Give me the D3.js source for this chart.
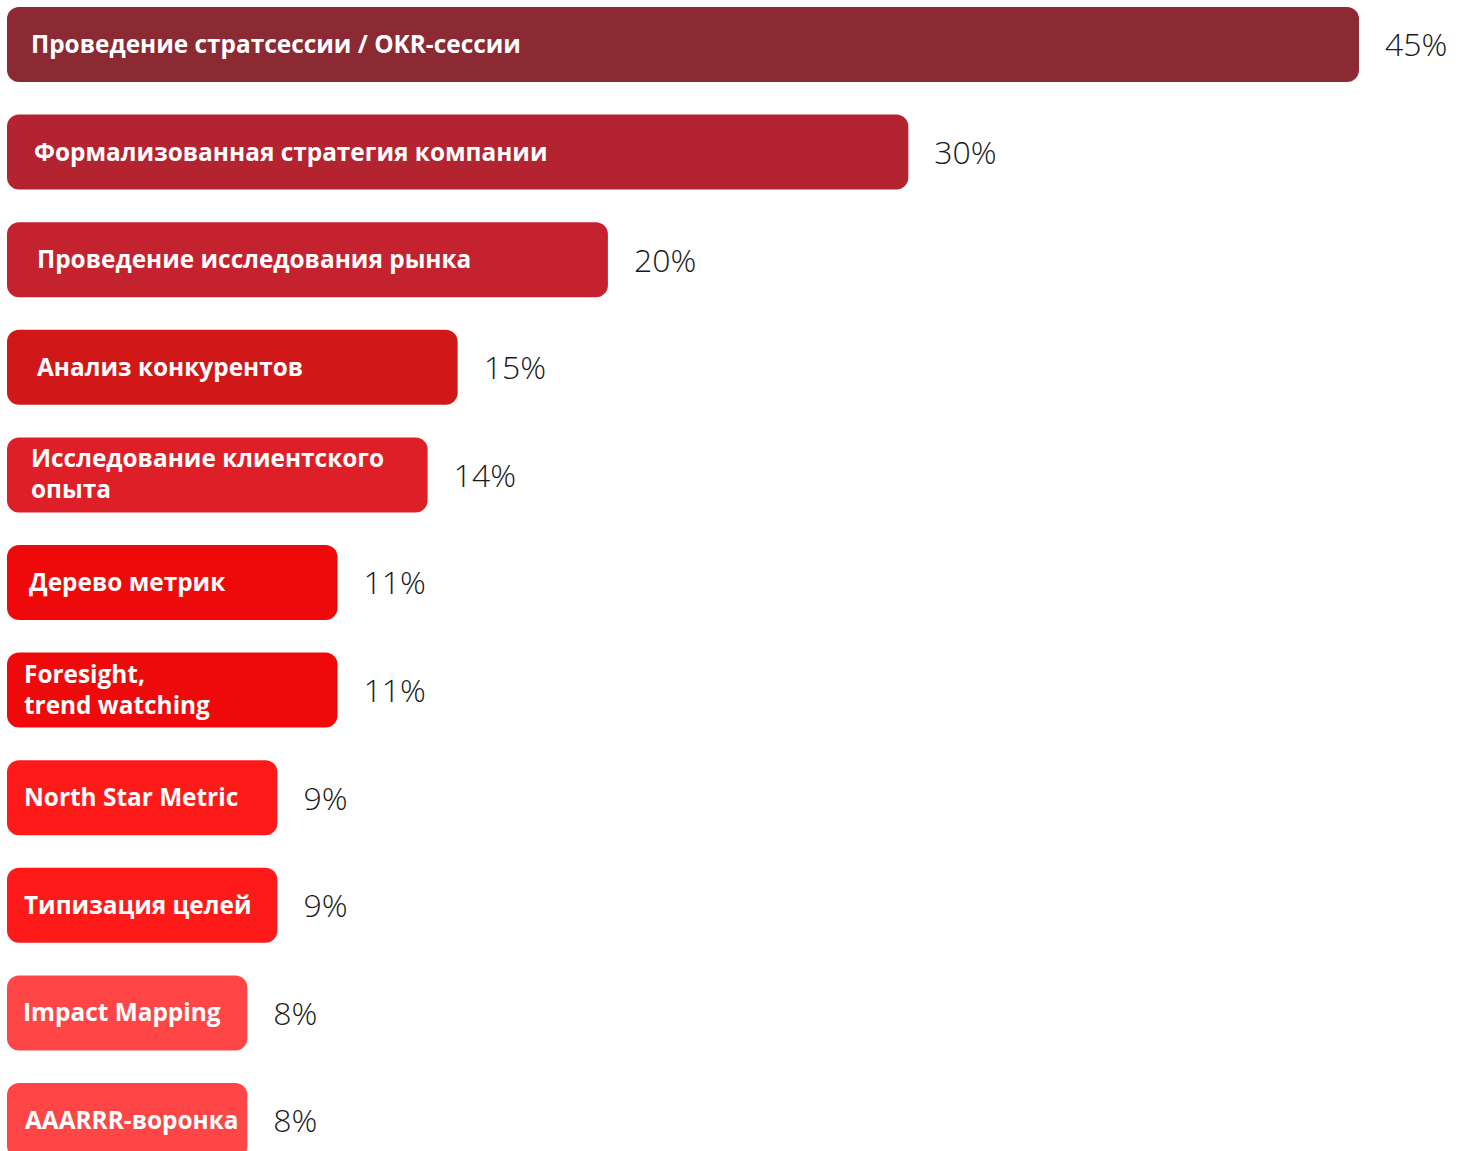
<!DOCTYPE html>
<html><head><meta charset="utf-8">
<script src="https://cdn.jsdelivr.net/npm/d3@7"></script>
<style>html,body{margin:0;padding:0;background:#fff;overflow:hidden}</style>
</head><body>
<svg id="chart" width="1458" height="1151"></svg>
<script>
const categories = [
  ["Проведение стратсессии / OKR-сессии"],
  ["Формализованная стратегия компании"],
  ["Проведение исследования рынка"],
  ["Анализ конкурентов"],
  ["Исследование клиентского", "опыта"],
  ["Дерево метрик"],
  ["Foresight,", "trend watching"],
  ["North Star Metric"],
  ["Типизация целей"],
  ["Impact Mapping"],
  ["AAARRR-воронка"]
];
const values = [45, 30, 20, 15, 14, 11, 11, 9, 9, 8, 8];
const valueLabels = ["45%", "30%", "20%", "15%", "14%", "11%", "11%", "9%", "9%", "8%", "8%"];
const colors = ["#8B2A33", "#B32430", "#C4222F", "#D01819", "#DF1F28", "#EE0A0A", "#EE0A0A", "#FF1A1A", "#FF1A1A", "#FF4646", "#FF4646"];
const labelPad = [24, 27, 30, 30, 24, 22, 17, 17, 17, 16, 18];

const svg = d3.select("#chart");
const x0 = 7;
const step = 107.6, pad = 0.303;
const x = d3.scaleLinear().domain([0, 45]).range([0, 1352]);
const y = d3.scaleBand().domain(d3.range(values.length))
  .range([7, 7 + step * (values.length - pad)]).paddingInner(pad).paddingOuter(0).align(0);

const g = svg.selectAll("g.bar").data(values).join("g").attr("class", "bar");

g.append("rect")
  .attr("x", x0)
  .attr("y", (d, i) => y(i))
  .attr("width", d => x(d))
  .attr("height", y.bandwidth())
  .attr("rx", 12).attr("ry", 12)
  .attr("fill", (d, i) => colors[i]);

g.each(function(d, i) {
  const lines = categories[i];
  const cy = y(i) + y.bandwidth() / 2;
  const t = d3.select(this).append("text")
    .attr("font-family", "'Open Sans', sans-serif")
    .attr("font-weight", 700)
    .attr("font-size", 24.4)
    .attr("fill", "#fff");
  if (lines.length === 1) {
    t.append("tspan").attr("x", x0 + labelPad[i]).attr("y", cy + 8.5).text(lines[0]);
  } else {
    lines.forEach((ln, k) => {
      t.append("tspan").attr("x", x0 + labelPad[i]).attr("y", cy - 7.5 + k * 31).text(ln);
    });
  }
  d3.select(this).append("text")
    .attr("x", x0 + x(d) + 26)
    .attr("y", cy + 12)
    .attr("font-family", "'Open Sans', sans-serif")
    .attr("font-weight", 300)
    .attr("font-size", 32)
    .attr("fill", "#1a1a1a")
    .text(valueLabels[i]);
});
</script>
</body></html>
